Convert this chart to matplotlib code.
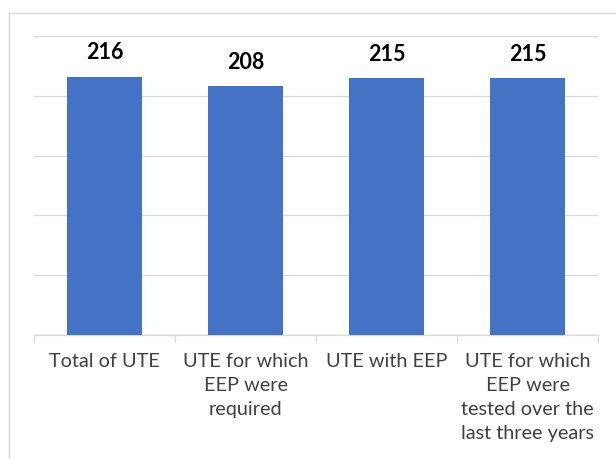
import matplotlib
matplotlib.use("Agg")
import matplotlib.pyplot as plt
from matplotlib.lines import Line2D

categories = ["Total of UTE", "UTE for which\nEEP were\nrequired", "UTE with EEP",
              "UTE for which\nEEP were\ntested over the\nlast three years"]
values = [216, 208, 215, 215]

W, H = 616, 459
fig = plt.figure(figsize=(W / 100, H / 100), dpi=100)
ax = fig.add_axes([34 / W, 1 - 335 / H, (598 - 34) / W, (335 - 36) / H])

x = list(range(len(values)))
ax.bar(x, values, width=0.53, color="#4472C4", zorder=3)
ax.set_xlim(-0.5, len(values) - 0.5)
ax.set_ylim(0, 250)
ax.set_yticks([0, 50, 100, 150, 200, 250])
ax.yaxis.grid(True, color="#D9D9D9", linewidth=1.0, zorder=0)
ax.tick_params(axis="y", left=False, labelleft=False)
for s in ["top", "right", "left"]:
    ax.spines[s].set_visible(False)
ax.spines["bottom"].set_color("#D9D9D9")
ax.spines["bottom"].set_linewidth(1.0)

# category divider ticks
ax.set_xticks([i - 0.5 for i in range(len(values) + 1)], minor=True)
ax.tick_params(axis="x", which="minor", length=5, color="#D9D9D9", width=1.0)
ax.set_xticks(x)
ax.set_xticklabels(categories, fontsize=14.3, color="#404040", family="Lato",
                   linespacing=1.5, va="top")
ax.tick_params(axis="x", which="major", length=0, pad=13)

for xi, v in zip(x, values):
    ax.annotate(str(v), (xi, v), xytext=(0, 9.5), textcoords="offset points",
                ha="center", va="bottom", fontsize=15.5, fontweight="bold",
                family="Lato", color="black")

# chart frame
fig.add_artist(Line2D([9 / W, 9 / W], [0, 1 - 13 / H], color="#D9D9D9", linewidth=1.0))
fig.add_artist(Line2D([9 / W, 1], [1 - 13 / H, 1 - 13 / H], color="#D9D9D9", linewidth=1.0))

fig.savefig("out.png", dpi=100, facecolor="white")
